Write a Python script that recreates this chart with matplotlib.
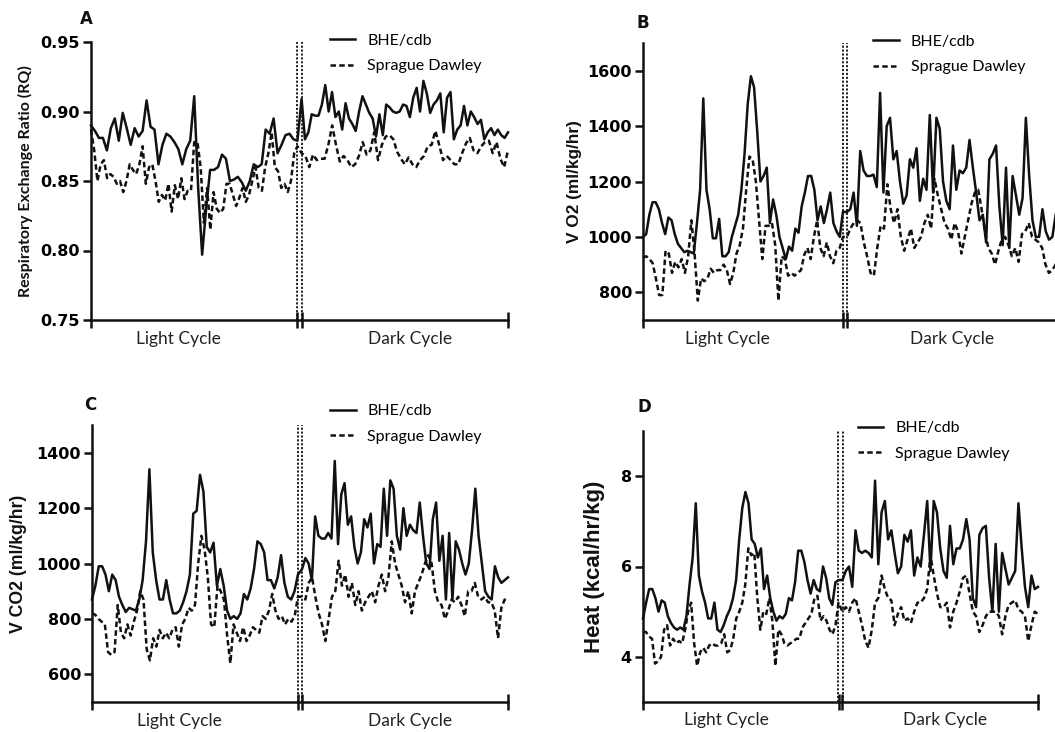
import matplotlib
matplotlib.use("Agg")
import numpy as np
import matplotlib.pyplot as plt
from matplotlib import font_manager

rq_bhe_light = [0.890, 0.886, 0.881, 0.881, 0.872, 0.888, 0.895, 0.879, 0.899, 0.888, 0.876, 0.888, 0.882,
                0.886, 0.908, 0.889, 0.887, 0.862, 0.876, 0.884, 0.882, 0.878, 0.873, 0.862, 0.873, 0.879,
                0.911, 0.845, 0.797, 0.830, 0.858, 0.858, 0.860, 0.869, 0.866, 0.850, 0.851, 0.853, 0.849,
                0.843, 0.850, 0.862, 0.860, 0.862, 0.887, 0.884, 0.895, 0.870, 0.876, 0.883, 0.884, 0.880, 0.879]
rq_bhe_dark = [0.909, 0.880, 0.885, 0.898, 0.897, 0.897, 0.905, 0.919, 0.900, 0.914, 0.896, 0.900, 0.887,
               0.906, 0.895, 0.891, 0.886, 0.900, 0.911, 0.905, 0.899, 0.895, 0.882, 0.898, 0.883, 0.905,
               0.903, 0.900, 0.899, 0.900, 0.905, 0.904, 0.896, 0.910, 0.917, 0.900, 0.922, 0.913, 0.899,
               0.905, 0.908, 0.913, 0.885, 0.910, 0.914, 0.880, 0.887, 0.890, 0.904, 0.890, 0.900, 0.896,
               0.891, 0.894, 0.880, 0.885, 0.888, 0.883, 0.887, 0.883, 0.881, 0.885]
rq_sd_light = [0.887, 0.872, 0.850, 0.862, 0.865, 0.852, 0.855, 0.853, 0.848, 0.850, 0.842, 0.850, 0.862,
               0.858, 0.855, 0.862, 0.875, 0.848, 0.860, 0.862, 0.850, 0.835, 0.840, 0.836, 0.848, 0.828,
               0.847, 0.837, 0.852, 0.837, 0.843, 0.843, 0.878, 0.878, 0.860, 0.820, 0.845, 0.815, 0.842,
               0.830, 0.827, 0.830, 0.848, 0.848, 0.840, 0.832, 0.838, 0.845, 0.835, 0.840, 0.850, 0.860,
               0.845, 0.843, 0.860, 0.870, 0.885, 0.860, 0.857, 0.845, 0.848, 0.842, 0.850, 0.870, 0.875]
rq_sd_dark = [0.870, 0.868, 0.860, 0.869, 0.865, 0.866, 0.866, 0.876, 0.890, 0.876, 0.864, 0.868, 0.865,
              0.860, 0.862, 0.868, 0.878, 0.869, 0.872, 0.885, 0.865, 0.876, 0.882, 0.883, 0.880, 0.871,
              0.866, 0.862, 0.867, 0.862, 0.860, 0.865, 0.868, 0.875, 0.876, 0.886, 0.876, 0.865, 0.868,
              0.865, 0.862, 0.862, 0.870, 0.877, 0.881, 0.872, 0.870, 0.875, 0.878, 0.879, 0.870, 0.878,
              0.866, 0.860, 0.872]

vo2_bhe_light = [1000, 1010, 1080, 1125, 1125, 1100, 1050, 1010, 1070, 1060, 1010, 975, 960, 945, 950, 945,
                 940, 1050, 1170, 1500, 1170, 1100, 995, 995, 1065, 930, 930, 945, 1000, 1040, 1080, 1170,
                 1300, 1480, 1580, 1540, 1380, 1200, 1220, 1250, 1050, 1135, 1080, 1000, 960, 920, 965, 950,
                 1030, 1015, 1110, 1160, 1220, 1220, 1170, 1060, 1110, 1050, 1100, 1160, 1050, 1020, 1000, 1090]
vo2_bhe_dark = [1090, 1100, 1160, 1040, 1310, 1240, 1220, 1220, 1225, 1180, 1520, 1160, 1400, 1430, 1280,
                1310, 1200, 1120, 1150, 1280, 1250, 1320, 1130, 1210, 1170, 1440, 1160, 1430, 1390, 1200,
                1130, 1100, 1330, 1170, 1240, 1230, 1250, 1350, 1250, 1160, 1060, 1080, 980, 1280, 1300,
                1330, 1110, 970, 1250, 960, 1220, 1150, 1080, 1140, 1430, 1220, 1060, 1000, 1000, 1100,
                1020, 990, 1000, 1080, 1120]
vo2_sd_light = [925, 930, 920, 905, 850, 790, 790, 950, 940, 870, 910, 890, 920, 870, 930, 1060, 940, 770,
                850, 840, 850, 885, 870, 880, 880, 900, 880, 830, 870, 940, 970, 1030, 1170, 1290, 1280, 1200,
                1060, 920, 1040, 1040, 1050, 970, 770, 930, 920, 860, 870, 860, 870, 880, 935, 960, 920, 1000,
                1060, 960, 930, 980, 930, 905, 950, 960, 1000]
vo2_sd_dark = [1000, 1030, 1050, 1060, 1050, 980, 930, 870, 860, 960, 1040, 1030, 1190, 1100, 1050, 1100,
               1000, 950, 990, 1030, 960, 980, 1000, 1050, 1080, 1030, 1210, 1150, 1100, 1050, 1030, 990,
               1050, 1020, 940, 1000, 1060, 1120, 1160, 1170, 1100, 1020, 960, 940, 900, 950, 990, 1000, 970,
               930, 960, 910, 1010, 1020, 1050, 1000, 990, 980, 960, 900, 870, 880, 900, 920]

vco2_bhe_light = [870, 920, 990, 990, 960, 900, 960, 940, 880, 850, 825, 840, 835, 830, 870, 940, 1080, 1340,
                  1040, 940, 870, 870, 940, 870, 820, 820, 830, 860, 900, 960, 1180, 1190, 1320, 1260, 1060,
                  1040, 1075, 920, 980, 920, 830, 800, 810, 800, 820, 890, 870, 910, 980, 1080, 1070, 1040,
                  940, 940, 910, 950, 1030, 930, 880, 870, 900, 960]
vco2_bhe_dark = [980, 1020, 1000, 940, 1170, 1100, 1090, 1090, 1110, 1090, 1370, 1070, 1250, 1290, 1140,
                 1170, 1060, 1000, 1040, 1160, 1130, 1180, 1000, 1070, 1060, 1270, 1100, 1300, 1270, 1100,
                 1050, 1200, 1100, 1140, 1120, 1110, 1220, 1100, 1000, 980, 1160, 1220, 1010, 1100, 870,
                 1110, 870, 1080, 1050, 1000, 960, 1000, 1120, 1270, 1100, 1000, 900, 880, 870, 990, 950,
                 930, 940, 950]
vco2_sd_light = [820, 815, 800, 790, 780, 680, 670, 680, 850, 750, 730, 780, 740, 790, 830, 900, 870, 690,
                 650, 730, 700, 760, 730, 750, 730, 760, 770, 700, 780, 800, 840, 830, 850, 1000, 1100, 1050,
                 950, 780, 770, 920, 900, 870, 740, 640, 780, 750, 720, 770, 720, 740, 770, 760, 750, 810,
                 800, 830, 890, 830, 800, 810, 780, 800, 790, 810, 880]
vco2_sd_dark = [880, 870, 930, 950, 880, 820, 780, 720, 800, 880, 900, 1010, 920, 960, 880, 930, 850, 900,
                830, 860, 880, 900, 860, 920, 960, 900, 950, 1080, 1000, 960, 920, 860, 900, 820, 900, 930,
                960, 1000, 1030, 1000, 900, 860, 850, 800, 830, 870, 860, 880, 850, 810, 900, 900, 930, 880,
                870, 880, 860, 860, 830, 730, 840, 870, 860]

heat_bhe_light = [4.85, 5.2, 5.5, 5.5, 5.3, 5.0, 5.25, 5.2, 4.9, 4.75, 4.65, 4.6, 4.65, 4.6, 4.9, 5.6, 6.2,
                  7.4, 5.8, 5.45, 5.2, 4.85, 4.85, 5.2, 4.6, 4.55, 4.7, 4.9, 5.05, 5.3, 5.7, 6.6, 7.3, 7.65,
                  7.4, 6.6, 6.5, 6.2, 6.4, 5.5, 5.8, 5.3, 5.0, 4.8, 4.9, 4.85, 4.95, 5.3, 5.25, 5.65, 6.35,
                  6.35, 6.1, 5.7, 5.4, 5.7, 5.5, 5.45, 6.0, 5.75, 5.3, 5.15, 5.65, 5.7]
heat_bhe_dark = [5.7, 5.9, 6.0, 5.55, 6.8, 6.35, 6.3, 6.35, 6.3, 6.2, 7.9, 6.05, 7.2, 7.45, 6.6, 6.8, 6.3,
                 5.85, 6.0, 6.7, 6.55, 6.8, 5.8, 6.2, 6.0, 6.7, 7.45, 5.9, 7.45, 7.2, 6.4, 5.9, 5.75, 6.9,
                 6.05, 6.4, 6.4, 6.6, 7.05, 6.6, 5.3, 5.1, 6.7, 6.85, 6.9, 5.75, 5.0, 6.5, 5.0, 6.3, 5.95,
                 5.6, 5.75, 5.9, 7.4, 6.4, 5.55, 5.1, 5.8, 5.5, 5.55]
heat_sd_light = [4.55, 4.55, 4.45, 4.4, 3.85, 3.9, 4.0, 4.6, 4.7, 4.25, 4.4, 4.3, 4.35, 4.3, 4.6, 5.0, 5.2,
                 4.3, 3.8, 4.1, 4.2, 4.1, 4.25, 4.3, 4.25, 4.25, 4.3, 4.5, 4.1, 4.15, 4.4, 4.85, 5.0, 5.2,
                 5.6, 6.4, 6.25, 6.3, 5.3, 4.6, 5.0, 4.95, 5.3, 4.8, 3.8, 4.6, 4.5, 4.3, 4.25, 4.3, 4.35,
                 4.4, 4.4, 4.65, 4.75, 4.85, 4.95, 5.3, 5.35, 4.8, 4.9, 4.8, 4.6, 4.5, 4.7, 5.2]
heat_sd_dark = [5.0, 5.1, 5.0, 5.2, 5.3, 5.0, 4.7, 4.35, 4.2, 4.6, 5.2, 5.3, 5.8, 5.5, 5.3, 5.25, 4.7, 4.95,
                5.1, 4.8, 4.85, 4.75, 5.0, 5.2, 5.2, 5.3, 5.5, 6.25, 5.8, 5.4, 5.1, 5.1, 5.2, 4.65, 5.0, 5.2,
                5.45, 5.75, 5.8, 5.4, 5.0, 4.9, 4.55, 4.7, 4.9, 5.0, 5.0, 5.0, 4.9, 4.5, 4.9, 5.15, 5.2,
                5.25, 5.05, 5.0, 4.9, 4.35, 4.7, 5.0, 4.95]

series_labels = ["BHE/cdb", "Sprague Dawley"]
cycle_labels = ["Light Cycle", "Dark Cycle"]

W, H = 1055, 732
TICK_FONT = "DejaVu Sans"
TEXT_FONT = "Lato"

# the y titles in the source look horizontally stretched: a narrow face at a larger size mimics that
installed = {f.name for f in font_manager.fontManager.ttflist}
if "Liberation Sans Narrow" in installed:
    LABEL_FONT, LABEL_SCALE = "Liberation Sans Narrow", 1.2
else:
    LABEL_FONT, LABEL_SCALE = "Liberation Sans", 1.0

fig = plt.figure(figsize=(W / 100, H / 100), dpi=100)


def px_axes(left, top, right, bottom):
    return fig.add_axes([left / W, 1 - bottom / H, (right - left) / W, (bottom - top) / H])


def draw_panel(ax, bhe, sd, ylim, yticks, fmt, ylabel, label_x, label_size, label_font,
               legend_xy, x_end=2.0, end_tick=True):
    bhe_light, bhe_dark = bhe
    sd_light, sd_dark = sd

    # light cycle on [0, 1], dark cycle on [1, x_end]
    def xs(light, dark):
        return np.concatenate([np.linspace(0, 0.99, len(light)),
                               np.linspace(1.01, x_end, len(dark))])

    ax.plot(xs(bhe_light, bhe_dark), list(bhe_light) + list(bhe_dark),
            color="#111111", lw=1.8, label=series_labels[0], clip_on=False, zorder=3)
    ax.plot(xs(sd_light, sd_dark), list(sd_light) + list(sd_dark),
            color="#111111", lw=1.8, dashes=(2.2, 1.3), label=series_labels[1],
            clip_on=False, zorder=3)

    ax.set_xlim(0, x_end)
    ax.set_ylim(*ylim)
    ax.set_yticks(yticks)
    ax.set_yticklabels([fmt.format(v) for v in yticks], fontfamily=TICK_FONT,
                       fontweight="bold", fontsize=11.5)
    ax.set_xticks([])
    for side in ["top", "right"]:
        ax.spines[side].set_visible(False)
    for side in ["left", "bottom"]:
        ax.spines[side].set_linewidth(1.8)
        ax.spines[side].set_color("#111111")
    ax.tick_params(axis="y", length=6, width=1.8, color="#111111", pad=2)
    ax.patch.set_alpha(0)

    # dotted double line at the light/dark boundary
    for dx in (-0.012, 0.012):
        ax.plot([1 + dx, 1 + dx], [0, 1], transform=ax.get_xaxis_transform(),
                color="#222222", lw=1.4, dashes=(1.1, 0.9), clip_on=False, zorder=2)
    # axis break marks and end tick
    xt = ax.get_xaxis_transform()
    for dx in (-0.01, 0.01):
        ax.plot([1 + dx, 1 + dx], [-0.028, 0.028], transform=xt, color="#111111",
                lw=1.8, clip_on=False, solid_capstyle="butt")
    if end_tick:
        ax.plot([x_end, x_end], [-0.028, 0.028], transform=xt, color="#111111",
                lw=1.8, clip_on=False, solid_capstyle="butt")
    ax.plot([0, 0], [-0.028, 0], transform=xt, color="#111111", lw=1.8,
            clip_on=False, solid_capstyle="butt")

    for xc, text in zip((0.42, 1.53), cycle_labels):
        ax.text(xc, -0.068, text, transform=xt, ha="center", va="center",
                fontfamily=TEXT_FONT, fontsize=12.5, color="#222222")

    ax.set_ylabel(ylabel, fontfamily=label_font, fontweight="bold", fontsize=label_size,
                  color="#111111")
    ax.yaxis.set_label_coords(label_x, 0.5)

    ax.legend(loc="upper left", bbox_to_anchor=legend_xy, frameon=False,
              prop={"family": TEXT_FONT, "size": 11.5}, handlelength=1.6,
              handletextpad=0.75, labelspacing=0.7, borderpad=0, borderaxespad=0)


ax_a = px_axes(91, 42, 508, 320)
draw_panel(ax_a, (rq_bhe_light, rq_bhe_dark), (rq_sd_light, rq_sd_dark), (0.75, 0.95),
           [0.75, 0.80, 0.85, 0.90, 0.95], "{:.2f}", "Respiratory Exchange Ratio (RQ)",
           -0.139, 11.5, TEXT_FONT, (0.573, 1.03))

ax_b = px_axes(643, 43, 1059, 320)
draw_panel(ax_b, (vo2_bhe_light, vo2_bhe_dark), (vo2_sd_light, vo2_sd_dark), (700, 1700),
           [800, 1000, 1200, 1400, 1600], "{:d}", "V O2 (ml/kg/hr)",
           -0.147, 12.4 * LABEL_SCALE, LABEL_FONT, (0.553, 1.03), x_end=2.06, end_tick=False)

ax_c = px_axes(92, 425, 508, 702)
draw_panel(ax_c, (vco2_bhe_light, vco2_bhe_dark), (vco2_sd_light, vco2_sd_dark), (500, 1500),
           [600, 800, 1000, 1200, 1400], "{:d}", "V CO2 (ml/kg/hr)",
           -0.156, 12.7 * LABEL_SCALE, LABEL_FONT, (0.572, 1.075))

ax_d = px_axes(643, 431, 1038, 702)
draw_panel(ax_d, (heat_bhe_light, heat_bhe_dark), (heat_sd_light, heat_sd_dark), (3, 9),
           [4, 6, 8], "{:d}", "Heat (kcal/hr/kg)",
           -0.096, 16 * LABEL_SCALE, LABEL_FONT, (0.544, 1.037))

for letter, (x, y) in zip("ABCD", [(86, 19), (643, 23), (90, 405), (644, 407)]):
    fig.text(x / W, 1 - y / H, letter, ha="center", va="center", fontfamily=TICK_FONT,
             fontweight="bold", fontsize=12, color="#111111")

fig.savefig("out.png", dpi=100)
plt.close(fig)
